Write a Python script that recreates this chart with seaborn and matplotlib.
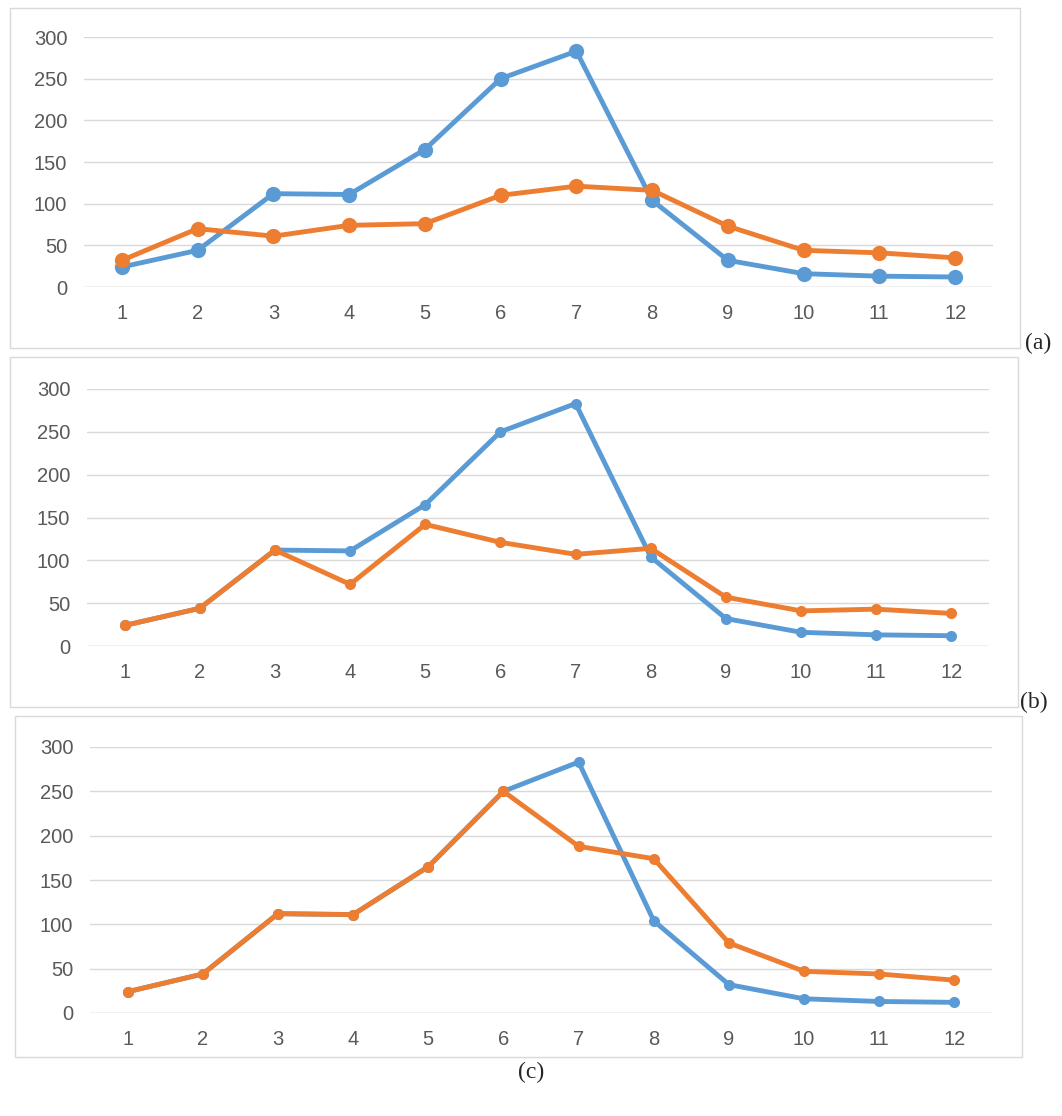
import matplotlib
matplotlib.use("Agg")
import matplotlib.pyplot as plt
import seaborn as sns
import pandas as pd
from matplotlib.patches import Rectangle

months = list(range(1, 13))
blue = [24, 44, 112, 111, 165, 250, 283, 104, 32, 16, 13, 12]
orange_a = [32, 70, 61, 74, 76, 110, 121, 116, 73, 44, 41, 35]
orange_b = [24, 44, 112, 72, 142, 121, 107, 114, 57, 41, 43, 38]
orange_c = [24, 44, 112, 111, 165, 250, 188, 174, 79, 47, 44, 37]
yticks = [0, 50, 100, 150, 200, 250, 300]

sns.set_theme(style="white")
plt.rcParams['font.family'] = ['Liberation Sans', 'DejaVu Sans']
W, H = 1062, 1116
fig = plt.figure(figsize=(W/100, H/100), dpi=100)

BLUE, ORANGE = "#5B9BD5", "#ED7D31"

def box(x0, y0, x1, y1):
    fig.patches.append(Rectangle((x0/W, 1-y1/H), (x1-x0)/W, (y1-y0)/H,
                                 transform=fig.transFigure, fill=False,
                                 edgecolor="#D9D9D9", linewidth=1))

def panel(x0, x1, ytop, ybot, orange, ms):
    ax = fig.add_axes([x0/W, 1-ybot/H, (x1-x0)/W, (ybot-ytop)/H])
    df = pd.DataFrame({"m": months, "blue": blue, "orange": orange})
    sns.lineplot(data=df, x="m", y="blue", ax=ax, color=BLUE, lw=3.5,
                 marker="o", markersize=ms, markeredgewidth=0)
    sns.lineplot(data=df, x="m", y="orange", ax=ax, color=ORANGE, lw=3.5,
                 marker="o", markersize=ms, markeredgewidth=0)
    ax.set_xlim(0.5, 12.5); ax.set_ylim(0, 300)
    ax.set_xticks(months); ax.set_yticks(yticks)
    ax.tick_params(length=0, labelsize=14.5, labelcolor="#595959", pad=12)
    ax.grid(axis="y", color="#D9D9D9", lw=1)
    ax.set_axisbelow(True)
    for s in ax.spines.values():
        s.set_visible(False)
    ax.axhline(0, color="#D9D9D9", lw=1, zorder=0)
    ax.set_xlabel(""); ax.set_ylabel("")
    return ax

box(10, 8, 1020, 348)
panel(84, 993, 37, 287, orange_a, 11)
fig.text(1025/W, 1-343/H, "(a)", fontsize=17, family="Liberation Serif", va="center")

box(10, 357, 1018, 707)
panel(87, 989, 389, 646, orange_b, 8)
fig.text(1020/W, 1-702/H, "(b)", fontsize=17, family="Liberation Serif", va="center")

box(15, 716, 1022, 1057)
panel(90, 992, 747, 1013, orange_c, 8)
fig.text(531/W, 1-1072/H, "(c)", fontsize=17, family="Liberation Serif", ha="center", va="center")

fig.savefig("out.png", dpi=100, facecolor="white")
